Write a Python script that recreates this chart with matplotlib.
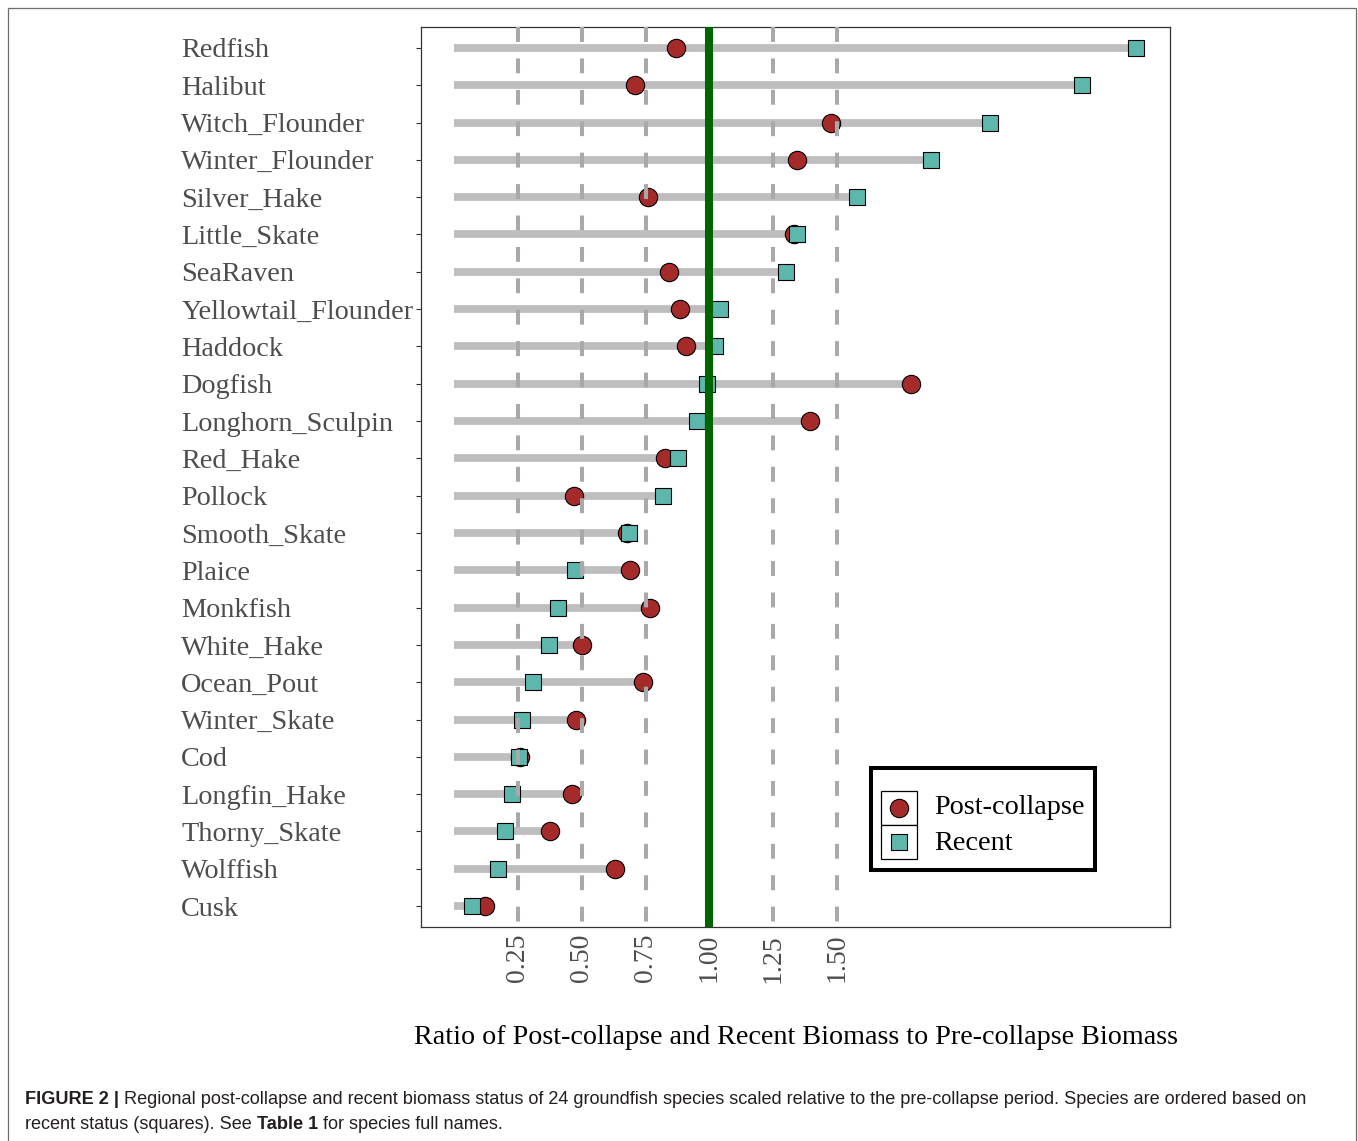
import matplotlib
matplotlib.use("Agg")
import matplotlib.pyplot as plt
from matplotlib.patches import Rectangle
from matplotlib.lines import Line2D
import numpy as np

# ---------------- data (top to bottom) ----------------
species = ["Redfish", "Halibut", "Witch_Flounder", "Winter_Flounder", "Silver_Hake",
           "Little_Skate", "SeaRaven", "Yellowtail_Flounder", "Haddock", "Dogfish",
           "Longhorn_Sculpin", "Red_Hake", "Pollock", "Smooth_Skate", "Plaice",
           "Monkfish", "White_Hake", "Ocean_Pout", "Winter_Skate", "Cod",
           "Longfin_Hake", "Thorny_Skate", "Wolffish", "Cusk"]
post_collapse = [0.87, 0.71, 1.475, 1.345, 0.76, 1.33, 0.84, 0.886, 0.91, 1.79,
                 1.396, 0.827, 0.47, 0.678, 0.69, 0.769, 0.502, 0.741, 0.478, 0.259,
                 0.463, 0.376, 0.631, 0.122]
recent = [2.67, 2.46, 2.10, 1.87, 1.58, 1.345, 1.30, 1.043, 1.024, 0.99,
          0.953, 0.878, 0.82, 0.686, 0.475, 0.408, 0.373, 0.31, 0.267, 0.255,
          0.227, 0.20, 0.173, 0.07]
x_ticks = [0.25, 0.50, 0.75, 1.00, 1.25, 1.50]
x_tick_labels = ["0.25", "0.50", "0.75", "1.00", "1.25", "1.50"]
ref_value = 1.0

W, H = 1358, 1141
fig = plt.figure(figsize=(W / 100, H / 100), dpi=100)
fig.patch.set_facecolor("white")

def fx(x):
    return x / W

def fy(y):
    return 1 - y / H

# axes placement (pixels)
L, R, T, B = 421, 1170, 27, 927
ax = fig.add_axes([fx(L), fy(B), (R - L) / W, (B - T) / H])

n = len(species)
ypos = np.arange(1, n + 1)

SERIF = ["Liberation Serif", "DejaVu Serif"]
RED = "#A52A2A"
TEAL = "#5DB7AD"
GRID = "#A9A9A9"

# bars from 0 to max
ends = np.maximum(np.array(post_collapse), np.array(recent))
ax.hlines(ypos, 0, ends, color="#BEBEBE", lw=5.6, capstyle="butt", zorder=1)

# points
ax.plot(post_collapse, ypos, "o", ms=13.2, mfc=RED, mec="black", mew=0.8,
        zorder=3, linestyle="none")
ax.plot(recent, ypos, "s", ms=12.0, mfc=TEAL, mec="black", mew=0.8,
        zorder=4, linestyle="none")

ylo, yhi = 0.44, n + 0.56
# dashed reference lines
for xv in x_ticks:
    if xv == ref_value:
        continue
    ax.plot([xv, xv], [ylo, yhi], color=GRID, lw=2.9, dashes=(3.7, 4.1),
            solid_capstyle="butt", dash_capstyle="butt", zorder=5)
ax.axvline(ref_value, color="#006400", lw=5.8, zorder=6)

ax.set_xlim(-0.130, 2.805)
ax.set_ylim(yhi, ylo)

ax.set_yticks(ypos)
ax.set_yticklabels(species, family=SERIF, fontsize=20.3, color="#4D4D4D")
for lab in ax.get_yticklabels():
    lab.set_horizontalalignment("left")
ax.tick_params(axis="y", length=3.6, width=0.8, color="#333333", pad=169)

ax.set_xticks(x_ticks)
ax.set_xticklabels(x_tick_labels, family=SERIF, fontsize=20, color="#4D4D4D",
                   rotation=90)
ax.tick_params(axis="x", length=0, pad=5)

for s in ax.spines.values():
    s.set_color("#333333")
    s.set_linewidth(0.9)

# x axis title
fig.text(fx((L + R) / 2), fy(1038), "Ratio of Post-collapse and Recent Biomass to Pre-collapse Biomass",
         family=SERIF, fontsize=20.25, color="black", ha="center", va="center")

# ---------------- manual legend ----------------
fig.add_artist(Rectangle((fx(871), fy(870)), (1095 - 871) / W, (870 - 768) / H,
                         transform=fig.transFigure, facecolor="white",
                         edgecolor="black", lw=2.9, zorder=10))
for (ytop, ybot) in [(791, 825), (825, 859)]:
    fig.add_artist(Rectangle((fx(881), fy(ybot)), (917 - 881) / W, (ybot - ytop) / H,
                             transform=fig.transFigure, facecolor="white",
                             edgecolor="black", lw=0.9, zorder=11))
fig.add_artist(Line2D([fx(899)], [fy(808)], transform=fig.transFigure, marker="o",
                      ms=13.2, mfc=RED, mec="black", mew=0.8, ls="none", zorder=12))
fig.add_artist(Line2D([fx(899)], [fy(842)], transform=fig.transFigure, marker="s",
                      ms=12.0, mfc=TEAL, mec="black", mew=0.8, ls="none", zorder=12))
fig.text(fx(934), fy(808), "Post-collapse", family=SERIF, fontsize=20.3,
         color="black", ha="left", va="center", zorder=12)
fig.text(fx(934), fy(843), "Recent", family=SERIF, fontsize=20.3,
         color="black", ha="left", va="center", zorder=12)

# ---------------- outer frame ----------------
fig.add_artist(Rectangle((fx(8), fy(1160)), (1356 - 8) / W, (1160 - 8) / H,
                         transform=fig.transFigure, facecolor="none",
                         edgecolor="#6E6E6E", lw=0.9, zorder=0))

# ---------------- caption ----------------
SANS = ["Liberation Sans", "DejaVu Sans"]
CAP = "#231F20"
cap_size = 13.1
fig.canvas.draw()
renderer = fig.canvas.get_renderer()

def put_runs(runs, x0, ybase):
    x = x0
    for txt, weight in runs:
        t = fig.text(fx(x), fy(ybase), txt, family=SANS, fontsize=cap_size,
                     weight=weight, color=CAP, ha="left", va="baseline")
        bb = t.get_window_extent(renderer=renderer)
        x += bb.width

put_runs([("FIGURE 2 |", "bold"),
          (" Regional post-collapse and recent biomass status of 24 groundfish species scaled relative to the pre-collapse period. Species are ordered based on", "normal")],
         25, 1104)
put_runs([("recent status (squares). See ", "normal"), ("Table 1", "bold"),
          (" for species full names.", "normal")], 25, 1129)

fig.savefig("out.png", dpi=100, facecolor="white")
